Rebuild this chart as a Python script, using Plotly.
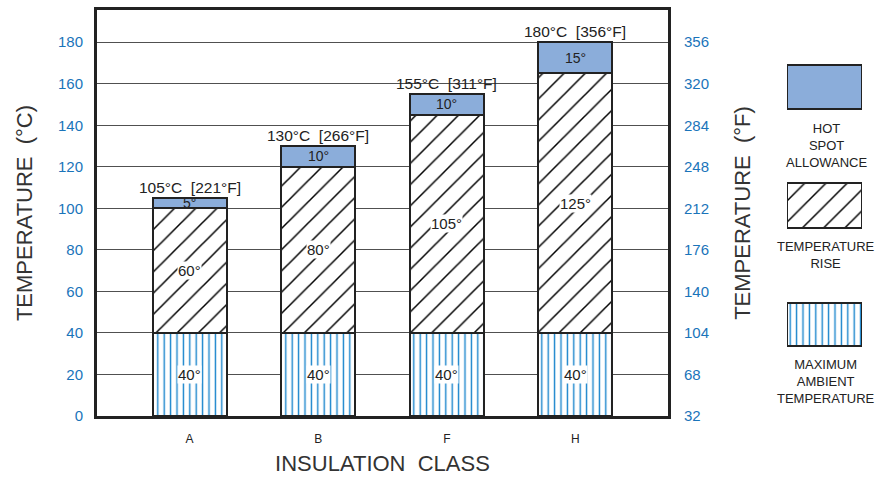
import plotly.graph_objects as go

# ---- data ----
classes = ["A", "B", "F", "H"]
ambient = [40, 40, 40, 40]
rise = [60, 80, 105, 125]
hotspot = [5, 10, 10, 15]
totals_c = [105, 130, 155, 180]
totals_f = [221, 266, 311, 356]
c_ticks = [0, 20, 40, 60, 80, 100, 120, 140, 160, 180]
f_ticks = [32, 68, 104, 140, 176, 212, 248, 284, 320, 356]

BLUE_TXT = "#1a74ba"
HOT_FILL = "#8badda"
AMB_LINE = "#1683cc"
FONT = "Liberation Sans"

xs = list(range(len(classes)))
W = 0.575

DIAG = dict(shape="/", fgcolor="#000", bgcolor="white", size=15, solidity=0.1, fgopacity=1)
VERT = dict(shape="|", fgcolor=AMB_LINE, bgcolor="white", size=6.4, solidity=0.22, fgopacity=1)

fig = go.Figure()
fig.add_trace(go.Bar(x=xs, y=ambient, width=W, name="Maximum ambient temperature",
                     marker=dict(color="white", line=dict(color="#222", width=2),
                                 pattern=VERT),
                     showlegend=False))
fig.add_trace(go.Bar(x=xs, y=rise, width=W, name="Temperature rise",
                     marker=dict(color="white", line=dict(color="#222", width=2),
                                 pattern=DIAG),
                     showlegend=False))
fig.add_trace(go.Bar(x=xs, y=hotspot, width=W, name="Hot spot allowance",
                     marker=dict(color=HOT_FILL, line=dict(color="#222", width=2)),
                     showlegend=False))

# invisible trace to activate right (°F) axis
fig.add_trace(go.Scatter(x=[xs[0]], y=[f_ticks[0]], yaxis="y2", mode="markers",
                         marker=dict(opacity=0), showlegend=False, hoverinfo="skip"))

ann = []
for i in xs:
    ann.append(dict(x=i, y=ambient[i] / 2, text=f"{ambient[i]}°", showarrow=False,
                    font=dict(size=15, color="#222", family=FONT), bgcolor="white",
                    borderpad=0))
    ann.append(dict(x=i, y=ambient[i] + rise[i] / 2, text=f"{rise[i]}°", showarrow=False,
                    font=dict(size=15, color="#222", family=FONT), bgcolor="white",
                    borderpad=0))
    ann.append(dict(x=i, y=ambient[i] + rise[i] + hotspot[i] / 2, text=f"{hotspot[i]}°",
                    showarrow=False, font=dict(size=14, color="#222", family=FONT)))
    ann.append(dict(x=i, y=totals_c[i], text=f"{totals_c[i]}°C  [{totals_f[i]}°F]",
                    showarrow=False, yanchor="bottom", yshift=0,
                    font=dict(size=15.5, color="#222", family=FONT)))

# ---- legend built from a separate small axis ----
PX_L, PX_R, PX_T, PX_B = 97, 884, 10, 416
pw = PX_R - PX_L
def px_x(p):
    return (p - PX_L) / pw
def px_y(p):
    return (PX_B - p) / (PX_B - PX_T)

leg_tops = [65, 183, 303]
leg_bots = [109, 228, 346]
fig.add_trace(go.Bar(x=[0], y=[leg_bots[0] - leg_tops[0]], base=[PX_B - leg_bots[0]],
                     width=1, xaxis="x3", yaxis="y3", showlegend=False, hoverinfo="skip",
                     marker=dict(color=HOT_FILL, line=dict(color="#222", width=2))))
fig.add_trace(go.Bar(x=[0], y=[leg_bots[1] - leg_tops[1]], base=[PX_B - leg_bots[1]],
                     width=1, xaxis="x3", yaxis="y3", showlegend=False, hoverinfo="skip",
                     marker=dict(color="white", line=dict(color="#222", width=2),
                                 pattern=DIAG)))
fig.add_trace(go.Bar(x=[0], y=[leg_bots[2] - leg_tops[2]], base=[PX_B - leg_bots[2]],
                     width=1, xaxis="x3", yaxis="y3", showlegend=False, hoverinfo="skip",
                     marker=dict(color="white", line=dict(color="#222", width=2),
                                 pattern=VERT)))

leg_text = [("HOT<br>SPOT<br>ALLOWANCE", 119), ("TEMPERATURE<br>RISE", 237),
            ("MAXIMUM<br>AMBIENT<br>TEMPERATURE", 355)]
for t, top in leg_text:
    ann.append(dict(xref="paper", yref="paper", x=px_x(826), y=px_y(top), text=t,
                    showarrow=False, yanchor="top", xanchor="center", align="center",
                    font=dict(size=13, color="#222", family=FONT)))

ymax = 195.5
fig.update_layout(
    width=886, height=478,
    margin=dict(l=PX_L, r=886 - PX_R, t=PX_T, b=478 - PX_B),
    paper_bgcolor="white", plot_bgcolor="white",
    barmode="stack", bargap=0,
    font=dict(family=FONT, color="#222"),
    annotations=ann,
    xaxis=dict(domain=[0, px_x(668)], range=[-0.72, 3.72], tickmode="array",
               tickvals=xs, ticktext=classes, showgrid=False, zeroline=False,
               automargin=False,
               showline=True, mirror=True, linecolor="#222", linewidth=3,
               ticks="outside", ticklen=10, tickcolor="rgba(0,0,0,0)",
               tickfont=dict(size=12, color="#222"),
               title=dict(text="INSULATION  CLASS", font=dict(size=22, color="#333"),
                          standoff=11)),
    yaxis=dict(range=[0, ymax], tickvals=c_ticks, showgrid=True, gridcolor="#505050",
               gridwidth=1, zeroline=False, showline=True, mirror=True,
               automargin=False,
               linecolor="#222", linewidth=3, ticks="outside", ticklen=8,
               tickcolor="rgba(0,0,0,0)", tickfont=dict(size=15, color=BLUE_TXT),
               title=dict(text="TEMPERATURE  (°C)", font=dict(size=22, color="#333"),
                          standoff=20)),
    yaxis2=dict(overlaying="y", side="right", anchor="x", automargin=False,
                range=[32, 32 + 1.8 * ymax], tickvals=f_ticks, showgrid=False,
                zeroline=False, ticks="outside", ticklen=12, tickcolor="rgba(0,0,0,0)",
                tickfont=dict(size=15, color=BLUE_TXT),
                title=dict(text="TEMPERATURE  (°F)", font=dict(size=22, color="#333"),
                           standoff=26)),
    xaxis3=dict(domain=[px_x(787), px_x(862)], range=[-0.5, 0.5], visible=False,
                anchor="y3"),
    yaxis3=dict(domain=[0, 1], range=[0, PX_B - PX_T], visible=False, anchor="x3"),
)

fig.write_html("out.html", config={"displayModeBar": False},
               post_script="document.body.style.margin='0';document.body.style.overflow='hidden';")
